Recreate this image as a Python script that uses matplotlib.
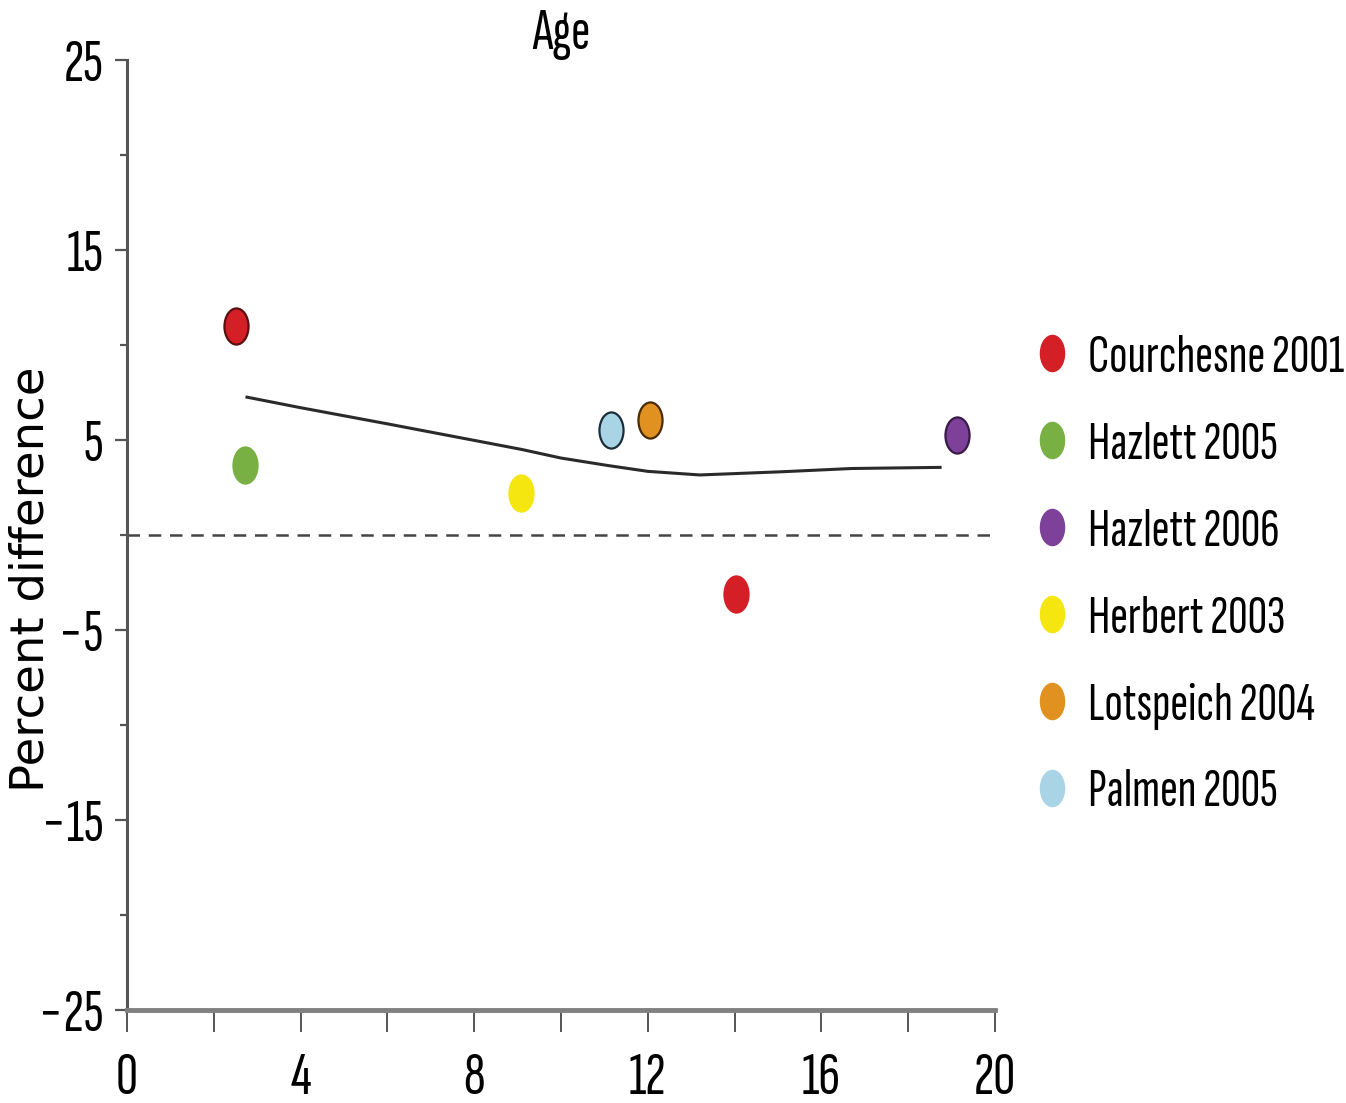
import matplotlib
matplotlib.use("Agg")
import matplotlib.pyplot as plt
from matplotlib.path import Path
from matplotlib.transforms import Affine2D
from matplotlib.lines import Line2D

# ---------------- data ----------------
studies = ["Courchesne 2001", "Hazlett 2005", "Hazlett 2006",
           "Herbert 2003", "Lotspeich 2004", "Palmen 2005"]
point_study = ["Courchesne 2001", "Hazlett 2005", "Herbert 2003", "Palmen 2005",
               "Lotspeich 2004", "Courchesne 2001", "Hazlett 2006"]
point_age = [2.52, 2.72, 9.08, 11.15, 12.05, 14.03, 19.12]
point_pct = [11.0, 3.7, 2.2, 5.55, 6.05, -3.1, 5.25]

trend_age = [2.73, 4.0, 6.0, 8.0, 9.1, 10.0, 11.1, 12.0, 13.2, 15.1, 16.7, 18.77]
trend_pct = [7.27, 6.7, 5.85, 4.98, 4.5, 4.05, 3.65, 3.35, 3.16, 3.33, 3.5, 3.56]

x_ticks = [0, 4, 8, 12, 16, 20]
y_ticks = [25, 15, 5, -5, -15, -25]

# ---------------- style ----------------
colors = {"Courchesne 2001": "#d41f26", "Hazlett 2005": "#78b043",
          "Hazlett 2006": "#7d4199", "Herbert 2003": "#f4e60e",
          "Lotspeich 2004": "#e0911f", "Palmen 2005": "#a8d4e6"}
edge_cols = ["#5a1010", "none", "none", "#1c2c38", "#4a2a00", "none", "#3a1a48"]

COND = ["Sofia Sans Extra Condensed", "Fira Sans Extra Condensed", "DejaVu Sans"]
plt.rcParams["font.family"] = COND

ell = Path.unit_circle().transformed(Affine2D().scale(1.0, 1.5))

W, H = 1346, 1103
fig = plt.figure(figsize=(W / 100, H / 100), dpi=100)
ax = fig.add_axes([127 / W, 1 - 1010 / H, (995 - 127) / W, (1010 - 60) / H])

ax.plot(trend_age, trend_pct, color="#2a2a2a", lw=2.2, solid_capstyle="butt", zorder=2)
ax.axhline(0, color="#444444", lw=1.8, ls=(0, (5, 3.5)), zorder=1)

for a, p, s, ec in zip(point_age, point_pct, point_study, edge_cols):
    ax.plot([a], [p], marker=ell, ms=26, color=colors[s],
            mec=(ec if ec != "none" else colors[s]), mew=1.6, ls="none", zorder=3)

ax.set_xlim(0, 20)
ax.set_ylim(-25, 25)
ax.set_xticks(x_ticks)
ax.set_xticks([2, 6, 10, 14, 18], minor=True)
ax.set_yticks(y_ticks)
ax.set_yticks([20, 10, 0, -10, -20], minor=True)
ax.tick_params(axis="y", which="major", length=9, width=1.6, color="#555555",
               labelsize=44, pad=8)
ax.tick_params(axis="y", which="minor", length=5, width=1.6, color="#555555")
ax.tick_params(axis="x", which="both", direction="out", length=16, width=1.4,
               color="#555555", labelsize=44, pad=14)

for sp in ["top", "right"]:
    ax.spines[sp].set_visible(False)
ax.spines["left"].set_color("#555555")
ax.spines["left"].set_linewidth(2.2)
ax.spines["bottom"].set_color("#808080")
ax.spines["bottom"].set_linewidth(3.5)

ax.set_title("Age", fontsize=42, pad=6)
ax.set_ylabel("Percent difference", fontsize=33.5, family=["DejaVu Sans"])
ax.yaxis.set_label_coords(-0.085, 0.453)

handles = [Line2D([], [], marker=ell, ms=26, color=colors[s], ls="none") for s in studies]
leg = ax.legend(handles, studies, loc="upper left",
                bbox_to_anchor=(1033 / W, 1 - 334 / H), bbox_transform=fig.transFigure,
                frameon=False, fontsize=39, handlelength=0.7, handletextpad=0.32,
                labelspacing=0.72, borderpad=0, borderaxespad=0)

fig.savefig("out.png", dpi=100)
